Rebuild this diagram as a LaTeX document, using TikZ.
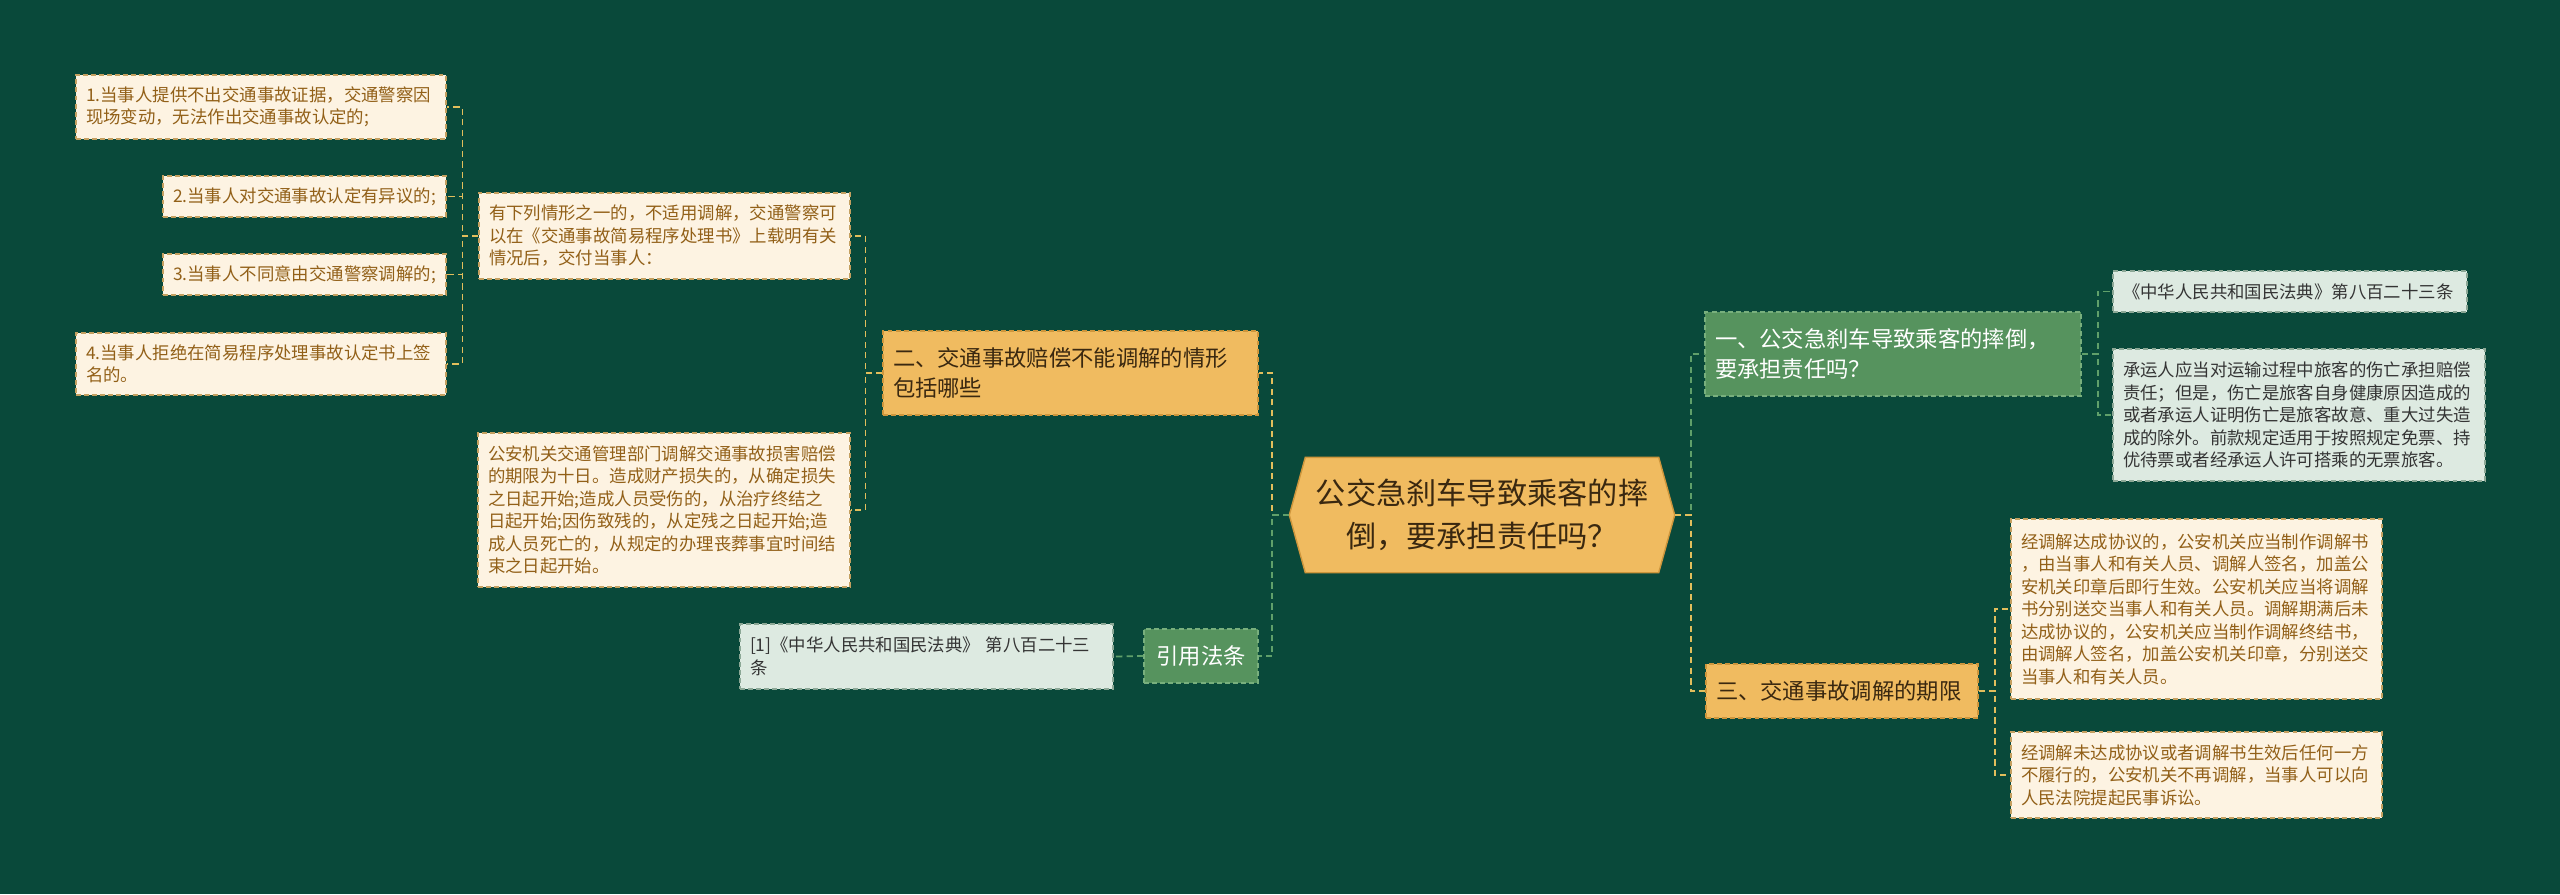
\documentclass[tikz,border=0pt]{standalone}
\usepackage{fontspec}
\setmainfont{Noto Sans CJK SC}
\usetikzlibrary{backgrounds}

\definecolor{bgdark}{RGB}{9,73,58}
\definecolor{creamfill}{RGB}{253,243,226}
\definecolor{creamline}{RGB}{196,160,96}
\definecolor{creamtext}{RGB}{146,96,24}
\definecolor{orangefill}{RGB}{240,187,96}
\definecolor{orangeline}{RGB}{206,150,60}
\definecolor{orangetext}{RGB}{58,40,16}
\definecolor{greenfill}{RGB}{86,147,94}
\definecolor{greenline}{RGB}{120,175,125}
\definecolor{mintfill}{RGB}{221,234,225}
\definecolor{mintline}{RGB}{140,168,150}
\definecolor{minttext}{RGB}{52,52,52}
\definecolor{linkyellow}{RGB}{226,190,92}
\definecolor{linkgreen}{RGB}{96,160,106}

\tikzset{
  box/.style={rectangle, dash pattern=on 1.4pt off 0.9pt, line width=0.35pt,
    inner xsep=0.1cm, inner ysep=0.04cm, align=left},
  leaf/.style={box, fill=creamfill, draw=creamline, text=creamtext,
    font=\fontsize{4.95}{6.4}\selectfont},
  cite/.style={box, fill=mintfill, draw=mintline, text=minttext,
    font=\fontsize{4.95}{6.4}\selectfont},
  topicorange/.style={box, fill=orangefill, draw=orangeline, text=orangetext,
    font=\fontsize{6.35}{8.5}\selectfont},
  topicgreen/.style={box, fill=greenfill, draw=greenline, text=white,
    font=\fontsize{6.35}{8.5}\selectfont},
  linky/.style={draw=linkyellow, dash pattern=on 1.8pt off 1.2pt, line width=0.5pt},
  linkg/.style={draw=linkgreen, dash pattern=on 1.8pt off 1.2pt, line width=0.5pt},
}

\begin{document}
\begin{tikzpicture}
\useasboundingbox (0,0) rectangle (25.6,-8.94);

% centre topic
\node[font=\fontsize{8.6}{12.2}\selectfont, text=orangetext, align=center,
  minimum width=3.52cm, minimum height=1.14cm, inner sep=0pt] (c) at (14.82,-5.15)
  {公交急刹车导致乘客的摔\\倒，要承担责任吗？};
\coordinate (cl) at ([xshift=-0.16cm]c.west);
\coordinate (cr) at ([xshift=0.16cm]c.east);

% left side
\node[topicorange, text width=3.55cm, minimum height=0.84cm] (b2) at (10.705,-3.73)
  {二、交通事故赔偿不能调解的情形\\包括哪些};
\node[leaf, text width=3.51cm, minimum height=0.86cm] (intro) at (6.645,-2.36)
  {有下列情形之一的，不适用调解，交通警察可\\以在《交通事故简易程序处理书》上载明有关\\情况后，交付当事人：};
\node[leaf, text width=3.50cm, minimum height=0.64cm] (i1) at (2.61,-1.07)
  {1.当事人提供不出交通事故证据，交通警察因\\现场变动，无法作出交通事故认定的;};
\node[leaf, text width=2.63cm, minimum height=0.41cm] (i2) at (3.045,-1.965)
  {2.当事人对交通事故认定有异议的;};
\node[leaf, text width=2.63cm, minimum height=0.41cm] (i3) at (3.045,-2.745)
  {3.当事人不同意由交通警察调解的;};
\node[leaf, text width=3.50cm, minimum height=0.62cm] (i4) at (2.61,-3.64)
  {4.当事人拒绝在简易程序处理事故认定书上签\\名的。};
\node[leaf, text width=3.52cm, minimum height=1.54cm] (period) at (6.64,-5.10)
  {公安机关交通管理部门调解交通事故损害赔偿\\的期限为十日。造成财产损失的，从确定损失\\之日起开始;造成人员受伤的，从治疗终结之\\日起开始;因伤致残的，从定残之日起开始;造\\成人员死亡的，从规定的办理丧葬事宜时间结\\束之日起开始。};
\node[topicgreen, text width=0.94cm, minimum height=0.54cm, align=center] (law) at (12.01,-6.56)
  {引用法条};
\node[cite, text width=3.53cm, minimum height=0.65cm] (ref1) at (9.265,-6.565)
  {[1]《中华人民共和国民法典》 第八百二十三\\条};

% right side
\node[topicgreen, text width=3.56cm, minimum height=0.84cm] (b1) at (18.93,-3.54)
  {一、公交急刹车导致乘客的摔倒，\\要承担责任吗？};
\node[cite, text width=3.34cm, minimum height=0.41cm] (law2) at (22.90,-2.915)
  {《中华人民共和国民法典》第八百二十三条};
\node[cite, text width=3.52cm, minimum height=1.32cm] (carrier) at (22.99,-4.15)
  {承运人应当对运输过程中旅客的伤亡承担赔偿\\责任；但是，伤亡是旅客自身健康原因造成的\\或者承运人证明伤亡是旅客故意、重大过失造\\成的除外。前款规定适用于按照规定免票、持\\优待票或者经承运人许可搭乘的无票旅客。};
\node[topicorange, text width=2.52cm, minimum height=0.54cm] (b3) at (18.42,-6.91)
  {三、交通事故调解的期限};
\node[leaf, text width=3.51cm, minimum height=1.80cm] (agree) at (21.965,-6.09)
  {经调解达成协议的，公安机关应当制作调解书\\，由当事人和有关人员、调解人签名，加盖公\\安机关印章后即行生效。公安机关应当将调解\\书分别送交当事人和有关人员。调解期满后未\\达成协议的，公安机关应当制作调解终结书，\\由调解人签名，加盖公安机关印章，分别送交\\当事人和有关人员。};
\node[leaf, text width=3.51cm, minimum height=0.86cm] (fail) at (21.965,-7.75)
  {经调解未达成协议或者调解书生效后任何一方\\不履行的，公安机关不再调解，当事人可以向\\人民法院提起民事诉讼。};

\begin{scope}[on background layer]
  \fill[bgdark] (0,0) rectangle (25.6,-8.94);
  \filldraw[fill=orangefill, draw=orangeline, line width=0.4pt]
    (c.north west) -- (cl) -- (c.south west) -- (c.south east) -- (cr) -- (c.north east) -- cycle;
\end{scope}

% connectors
\draw[linky] (cl) -- ++(-0.17,0) |- (b2.east);
\draw[linkg] (cl) -- ++(-0.17,0) |- (law.east);
\draw[linkg] (cr) -- ++(0.16,0) |- (b1.west);
\draw[linky] (cr) -- ++(0.16,0) |- (b3.west);
\draw[linky] (b2.west) -- ++(-0.17,0) |- (intro.east);
\draw[linky] (b2.west) -- ++(-0.17,0) |- (period.east);
\foreach \k in {i1,i2,i3,i4}
  \draw[linky] (intro.west) -- ++(-0.16,0) |- (\k.east);
\draw[linkg] (law.west) -- (ref1.east);
\draw[linkg] (b1.east) -- ++(0.16,0) |- (law2.west);
\draw[linkg] (b1.east) -- ++(0.16,0) |- (carrier.west);
\draw[linky] (b3.east) -- ++(0.16,0) |- (agree.west);
\draw[linky] (b3.east) -- ++(0.16,0) |- (fail.west);
\end{tikzpicture}
\end{document}
